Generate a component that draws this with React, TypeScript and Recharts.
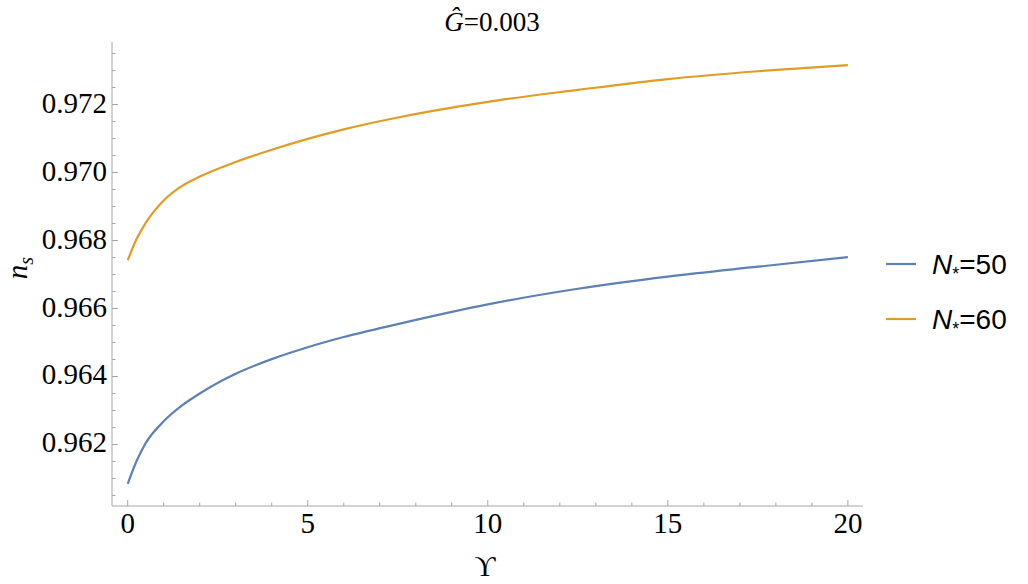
import { LineChart, Line, XAxis, YAxis } from "recharts";

// Upsilon values (x) and spectral index n_s
const upsilon = [0, 0.25, 0.5, 1, 1.5, 2, 3, 4, 5, 6, 7.5, 10, 12.5, 15, 17.5, 20];
const nsN50 = [
  0.96084, 0.96152, 0.96204, 0.96268, 0.96314, 0.9635, 0.96408, 0.96451, 0.96486,
  0.96516, 0.96554, 0.96612, 0.96658, 0.96694, 0.96723, 0.96751,
];
const nsN60 = [
  0.96742, 0.96805, 0.96852, 0.96918, 0.9696, 0.96988, 0.97031, 0.97067, 0.97099,
  0.97127, 0.97162, 0.97208, 0.97243, 0.97275, 0.97298, 0.97316,
];

const xTicks = [0, 1, 2, 3, 4, 5, 6, 7, 8, 9, 10, 11, 12, 13, 14, 15, 16, 17, 18, 19, 20];
const xLabels = [0, 5, 10, 15, 20];
const yTicks = [
  0.9605, 0.961, 0.9615, 0.962, 0.9625, 0.963, 0.9635, 0.964, 0.9645, 0.965, 0.9655,
  0.966, 0.9665, 0.967, 0.9675, 0.968, 0.9685, 0.969, 0.9695, 0.97, 0.9705, 0.971,
  0.9715, 0.972, 0.9725, 0.973, 0.9735,
];
const yLabels = ["0.962", "0.964", "0.966", "0.968", "0.970", "0.972"];

const series = [
  { key: "n50", name: "50", color: "#5e81b5" },
  { key: "n60", name: "60", color: "#e19c24" },
];

const data = upsilon.map((u, i) => ({ u, n50: nsN50[i], n60: nsN60[i] }));

const FRAME = "#a6a6a6";
const serif = { fontFamily: "Liberation Serif, DejaVu Serif, serif" };
const sans = { fontFamily: "Liberation Sans, Arial, sans-serif" };

const yLabelOf = (v: number) => yLabels.find((l) => Math.abs(parseFloat(l) - v) < 1e-7);

const BottomTick = ({ x, y, payload }: any) => {
  const major = xLabels.includes(payload.value);
  return (
    <g>
      <line x1={x} x2={x} y1={y} y2={y - (major ? 6 : 3.5)} stroke={FRAME} />
      {major && (
        <text x={x} y={y + 27} textAnchor="middle" style={serif} fontSize={29} fill="#000">
          {payload.value}
        </text>
      )}
    </g>
  );
};

const TopTick = ({ x, y, payload }: any) => {
  const major = xLabels.includes(payload.value);
  return <line x1={x} x2={x} y1={y} y2={y + (major ? 6 : 3.5)} stroke={FRAME} />;
};

const LeftTick = ({ x, y, payload }: any) => {
  const label = yLabelOf(payload.value);
  return (
    <g>
      <line x1={x} x2={x + (label ? 6 : 3.5)} y1={y} y2={y} stroke={FRAME} />
      {label && (
        <text x={x - 5} y={y + 8} textAnchor="end" style={serif} fontSize={29} fill="#000">
          {label}
        </text>
      )}
    </g>
  );
};

const RightTick = ({ x, y, payload }: any) => {
  const label = yLabelOf(payload.value);
  return <line x1={x} x2={x - (label ? 6 : 3.5)} y1={y} y2={y} stroke={FRAME} />;
};

export default function App() {
  return (
    <div style={{ position: "absolute", left: 0, top: 0 }}>
      <LineChart
        width={1028}
        height={584}
        data={data}
        margin={{ top: 42, right: 165, bottom: 0, left: 0 }}
      >
        <XAxis
          dataKey="u"
          type="number"
          domain={[-0.436, 20.42]}
          allowDataOverflow
          ticks={xTicks}
          interval={0}
          height={78}
          tickSize={0}
          tickMargin={0}
          tickLine={false}
          axisLine={{ stroke: FRAME }}
          tick={<BottomTick />}
        />
        <XAxis
          xAxisId="top"
          orientation="top"
          dataKey="u"
          type="number"
          domain={[-0.436, 20.42]}
          allowDataOverflow
          ticks={xTicks}
          interval={0}
          height={0}
          tickSize={0}
          tickMargin={0}
          tickLine={false}
          axisLine={{ stroke: FRAME }}
          tick={<TopTick />}
        />
        <YAxis
          type="number"
          domain={[0.96019, 0.97384]}
          allowDataOverflow
          ticks={yTicks}
          interval={0}
          width={112}
          tickSize={0}
          tickMargin={0}
          tickLine={false}
          axisLine={{ stroke: FRAME }}
          tick={<LeftTick />}
        />
        <YAxis
          yAxisId="right"
          orientation="right"
          type="number"
          domain={[0.96019, 0.97384]}
          allowDataOverflow
          ticks={yTicks}
          interval={0}
          width={0}
          tickSize={0}
          tickMargin={0}
          tickLine={false}
          axisLine={{ stroke: FRAME }}
          tick={<RightTick />}
        />
        {series.map((s) => (
          <Line
            key={s.key}
            dataKey={s.key}
            type="monotone"
            stroke={s.color}
            strokeWidth={2.2}
            dot={false}
            isAnimationActive={false}
          />
        ))}

        <text x={492} y={31} textAnchor="middle" style={serif} fontSize={27} fill="#000">
          <tspan fontStyle="italic">Ĝ</tspan>=0.003
        </text>
        <text x={485} y={576} textAnchor="middle" style={serif} fontSize={29} fill="#000">
          ϒ
        </text>
        <text
          transform="translate(27,268) rotate(-90)"
          textAnchor="middle"
          style={serif}
          fontSize={29}
          fontStyle="italic"
          fill="#000"
        >
          n
          <tspan fontSize={20} dy={6}>
            s
          </tspan>
        </text>

        {series.map((s, i) => {
          const cy = 264 + i * 55;
          return (
            <g key={s.key}>
              <line x1={886} x2={916} y1={cy} y2={cy} stroke={s.color} strokeWidth={2.2} />
              <text x={932} y={cy + 10} style={sans} fontSize={28} fill="#000">
                <tspan fontStyle="italic">N</tspan>
                <tspan fontSize={18} dy={6}>
                  *
                </tspan>
                <tspan dy={-6}>={s.name}</tspan>
              </text>
            </g>
          );
        })}
      </LineChart>
    </div>
  );
}
